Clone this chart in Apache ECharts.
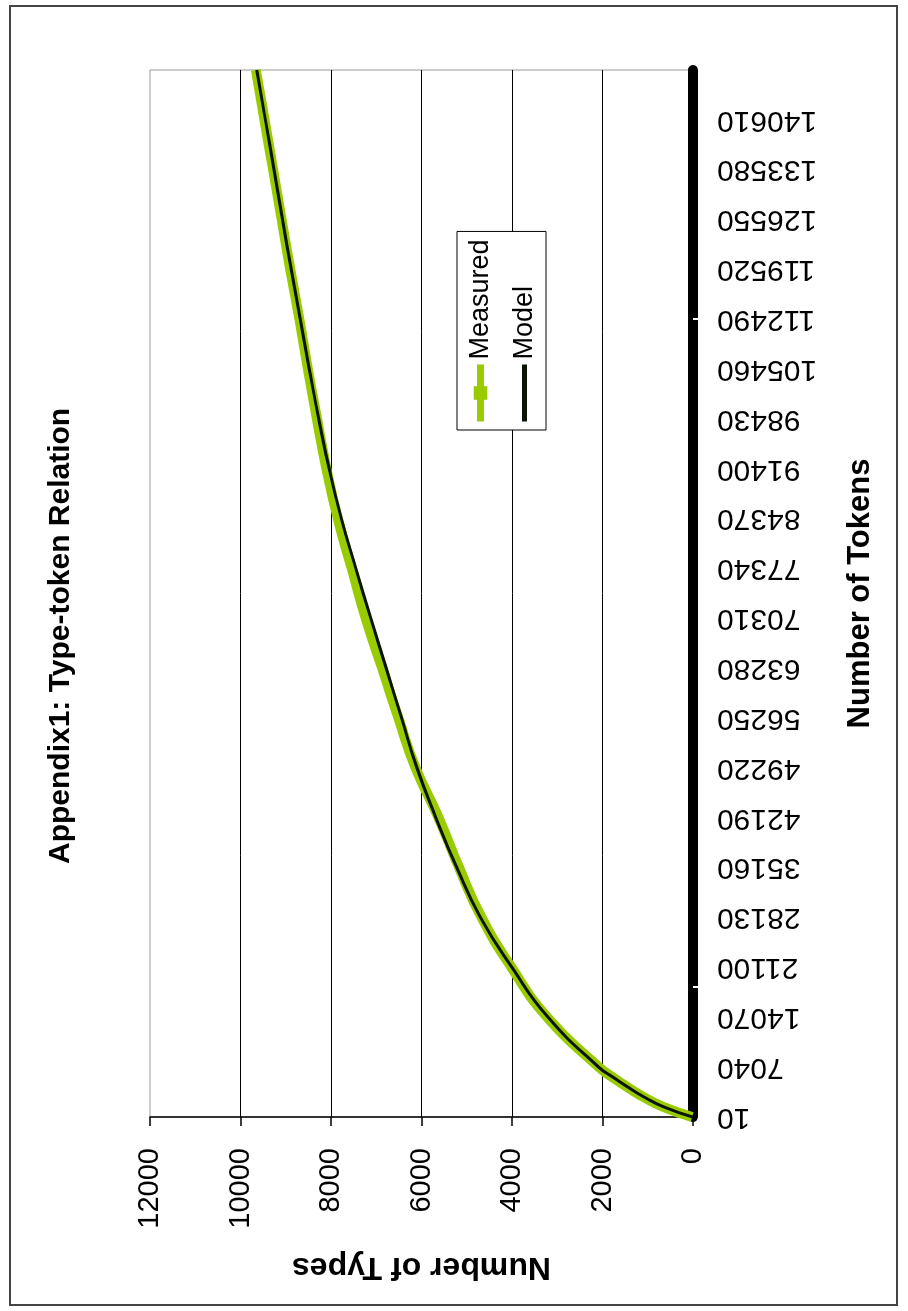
<!DOCTYPE html>
<html>
<head>
<meta charset="utf-8">
<title>Appendix1: Type-token Relation</title>
<script src="https://cdn.jsdelivr.net/npm/echarts@6.0.0/dist/echarts.min.js"></script>
<style>
  html, body { margin: 0; padding: 0; background: #fff; overflow: hidden; }
  /* drawn upright, then turned a quarter turn left like the scanned page */
  #chart {
    position: absolute;
    left: 0;
    top: 0;
    width: 1311px;
    height: 908px;
    transform-origin: 0 0;
    transform: translate(0, 1311px) rotate(-90deg);
  }
</style>
</head>
<body>
<div id="chart"></div>
<script>
// token counts on the category axis (one label every 5th step)
const tokenStep = 1406;
const tokens = Array.from({ length: 106 }, (_, i) => 10 + i * tokenStep);

// points
const sampleTokens = [10, 1416, 2822, 4228, 5634, 7040, 14070, 21100, 28130, 35160, 42190, 49220, 56250, 63280,
  70310, 77340, 84370, 91400, 98430, 105460, 112490, 119520, 126550, 133580, 140610, 147640];
const measured = [20, 650, 1090, 1450, 1780, 2080, 3220, 4010, 4670, 5170, 5620, 6130, 6510, 6870,
  7230, 7540, 7850, 8100, 8310, 8510, 8700, 8900, 9090, 9280, 9470, 9660];
const model = [10, 640, 1080, 1440, 1770, 2086, 3204, 4002, 4696, 5220, 5680, 6100, 6440, 6780,
  7120, 7450, 7770, 8040, 8270, 8480, 8680, 8880, 9070, 9260, 9450, 9640];

const typeTicks = { min: 0, max: 12000, interval: 2000 };
const fontFamily = '"Liberation Sans", Arial, sans-serif';

const toPairs = (values) => sampleTokens.map((t, i) => [tokens.indexOf(t), values[i]]);

const myChart = echarts.init(document.getElementById('chart'), null, { width: 1311, height: 908 });

myChart.setOption({
  animation: false,
  backgroundColor: '#fff',
  textStyle: { fontFamily: fontFamily },
  title: {
    text: 'Appendix1: Type-token Relation',
    left: 447,
    top: 46,
    padding: 0,
    textStyle: { fontSize: 30, fontWeight: 'bold', color: '#000', fontFamily: fontFamily },
  },
  legend: {
    orient: 'vertical',
    left: 881,
    top: 457,
    padding: [10, 8, 8, 5],
    itemGap: 17,
    itemWidth: 57,
    itemHeight: 17,
    backgroundColor: '#fff',
    borderColor: '#000',
    borderWidth: 1,
    borderRadius: 0,
    textStyle: { fontSize: 27, color: '#000', fontFamily: fontFamily },
    data: [
      { name: 'Measured', lineStyle: { width: 7 } },
      { name: 'Model', lineStyle: { width: 5 }, itemStyle: { opacity: 0 } },
    ],
  },
  grid: {
    left: 194,
    right: 70,
    top: 150,
    bottom: 215,
    show: true,
    backgroundColor: '#fff',
    borderColor: '#999',
    borderWidth: 1,
  },
  xAxis: {
    type: 'category',
    data: tokens.map(String),
    boundaryGap: false,
    offset: 5,
    name: 'Number of Tokens',
    nameLocation: 'middle',
    nameGap: 147,
    nameTextStyle: { fontSize: 31, fontWeight: 'bold', color: '#000', fontFamily: fontFamily },
    axisLine: { lineStyle: { color: '#000', width: 10 } },
    axisTick: {
      show: true,
      interval: (index) => index === 13 || index === 80,
      length: 6,
      lineStyle: { color: '#fff', width: 2 },
    },
    axisLabel: {
      rotate: 90,
      margin: 19,
      fontSize: 30,
      color: '#000',
      interval: (index) => index % 5 === 0 && index < 105,
    },
    splitLine: { show: false },
  },
  yAxis: {
    type: 'value',
    min: typeTicks.min,
    max: typeTicks.max,
    interval: typeTicks.interval,
    name: 'Number of Types',
    nameLocation: 'middle',
    nameRotate: 90,
    nameGap: 134,
    nameTextStyle: { fontSize: 32, fontWeight: 'bold', color: '#000', fontFamily: fontFamily },
    axisLine: { show: true, lineStyle: { color: '#000', width: 1.5 } },
    axisTick: { show: true, length: 9, lineStyle: { color: '#000', width: 1.5 } },
    axisLabel: {
      margin: 31,
      fontSize: 29,
      color: '#000',
      formatter: (value) => String(value),
    },
    splitLine: {
      show: true,
      showMinLine: false,
      showMaxLine: false,
      lineStyle: { color: '#000', width: 1 },
    },
  },
  series: [
    {
      name: 'Measured',
      type: 'line',
      data: toPairs(measured),
      smooth: true,
      symbol: 'rect',
      symbolSize: 13,
      showSymbol: false,
      itemStyle: { color: '#99cc00' },
      lineStyle: { color: '#99cc00', width: 10 },
    },
    {
      name: 'Model',
      type: 'line',
      data: toPairs(model),
      smooth: true,
      symbol: 'none',
      itemStyle: { color: '#000' },
      lineStyle: { color: '#0a1400', width: 3 },
    },
  ],
  graphic: [
    {
      type: 'rect',
      silent: true,
      z: 100,
      shape: { x: 6, y: 10, width: 1299, height: 887 },
      style: { fill: 'none', stroke: '#444', lineWidth: 2 },
    },
  ],
});
</script>
</body>
</html>
